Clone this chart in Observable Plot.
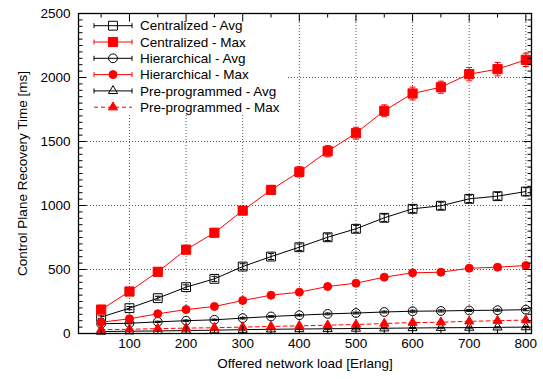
<!DOCTYPE html>
<html><head><meta charset="utf-8">
<script src="https://cdn.jsdelivr.net/npm/d3@7"></script>
<script src="https://cdn.jsdelivr.net/npm/@observablehq/plot@0.6"></script>
<style>
body{margin:0;background:#fff;}
#wrap{width:543px;height:379px;}
</style></head><body><div id="wrap"></div>
<script>
// ---- data ----
const load = [50,100,150,200,250,300,350,400,450,500,550,600,650,700,750,800];
const centAvg    = [128,198,276,362,427,523,601,674,752,818,904,974,998,1052,1073,1109];
const centAvgErr = [10,12,15,18,20,22,23,25,26,27,28,28,28,29,29,30];
const centMax    = [187,328,482,655,787,960,1122,1263,1424,1565,1740,1875,1924,2026,2065,2138];
const centMaxErr = [15,18,22,25,28,30,34,40,44,46,46,50,47,52,52,52];
const hierAvg    = [76,80,91,100,107,120,133,143,153,160,168,174,176,180,182,186];
const hierAvgErr = [4,4,5,5,5,6,6,6,7,7,7,8,8,8,8,8];
const hierMax    = [88,115,154,187,211,258,299,323,367,393,440,474,479,510,518,531];
const hierMaxErr = [6,7,8,9,10,10,11,12,12,13,14,14,15,15,16,16];
const preAvg     = [15,18,20,23,26,30,33,35,37,39,41,43,45,46,48,50];
const preAvgErr  = [2,2,2,3,3,3,3,3,4,4,4,4,4,4,4,4];
const preMax     = [30,33,38,42,45,50,55,60,65,70,78,85,88,95,100,105];
const seriesNames = ["Centralized - Avg","Centralized - Max","Hierarchical - Avg","Hierarchical - Max","Pre-programmed - Avg","Pre-programmed - Max"];
const xTicks = [100,200,300,400,500,600,700,800];
const yTicks = [0,500,1000,1500,2000,2500];
const xLabel = "Offered network load [Erlang]";
const yLabel = "Control Plane Recovery Time [ms]";

// ---- styles ----
const seriesData = [
  {values: centAvg, err: centAvgErr},
  {values: centMax, err: centMaxErr},
  {values: hierAvg, err: hierAvgErr},
  {values: hierMax, err: hierMaxErr},
  {values: preAvg, err: preAvgErr},
  {values: preMax, err: null}
];
const styles = [
  {color:"#000", symbol:"square",   d3sym:d3.symbolSquare,   fill:"none", r:5.0, dash:null, caps:true},
  {color:"#f00", symbol:"square",   d3sym:d3.symbolSquare,   fill:"#f00", r:5.2, dash:null, caps:true},
  {color:"#000", symbol:"circle",   d3sym:d3.symbolCircle,   fill:"none", r:4.4, dash:null, caps:true},
  {color:"#f00", symbol:"circle",   d3sym:d3.symbolCircle,   fill:"#f00", r:4.0, dash:null, caps:true},
  {color:"#000", symbol:"triangle", d3sym:d3.symbolTriangle, fill:"none", r:3.4, dash:null, caps:true},
  {color:"#f00", symbol:"triangle", d3sym:d3.symbolTriangle, fill:"#f00", r:3.4, dash:"4,3", caps:false}
];
const FS = 13.5;

const lineSym = (x1,y1,x2,y2) => ({draw(c){ c.moveTo(x1,y1); c.lineTo(x2,y2); }});
const capSym = lineSym(-3,0,3,0);

const yMinor = d3.range(0, 2501, 50).filter(v => v % 500 !== 0);
const xMinor = d3.range(50, 801, 100);

function legendMark(index, scales, values, dims) {
  const g = d3.create("svg:g");
  const x0 = dims.marginLeft, y0 = dims.marginTop;
  g.append("rect").attr("x", x0 + 1).attr("y", y0 + 1).attr("width", 208).attr("height", 101).attr("fill", "white");
  styles.forEach((s, i) => {
    const cy = y0 + 12.7 + i * 16.3;
    const xa = x0 + 16, xb = x0 + 54, xm = x0 + 35;
    g.append("line").attr("x1", xa).attr("x2", xb).attr("y1", cy).attr("y2", cy)
      .attr("stroke", s.color).attr("stroke-width", 1).attr("stroke-dasharray", s.dash);
    if (s.caps) {
      [xa, xb].forEach(xx => g.append("line").attr("x1", xx).attr("x2", xx).attr("y1", cy - 2.5).attr("y2", cy + 2.5)
        .attr("stroke", s.color).attr("stroke-width", 1));
    }
    g.append("path").attr("d", d3.symbol(s.d3sym, Math.PI * s.r * s.r)())
      .attr("transform", `translate(${xm},${cy})`)
      .attr("fill", s.fill).attr("stroke", s.color).attr("stroke-width", 1);
    g.append("text").attr("x", x0 + 62).attr("y", cy).attr("dy", "0.35em")
      .attr("text-anchor", "start")
      .attr("fill", "black").attr("font-size", FS).text(seriesNames[i]);
  });
  return g.node();
}

const dataMarks = [];
seriesData.forEach((sd, i) => {
  const s = styles[i];
  const rows = load.map((x, j) => ({x, y: sd.values[j], e: sd.err ? sd.err[j] : 0}));
  dataMarks.push(Plot.line(rows, {x: "x", y: "y", stroke: s.color, strokeWidth: 1, strokeDasharray: s.dash}));
  if (sd.err) {
    dataMarks.push(Plot.ruleX(rows, {x: "x", y1: d => d.y - d.e, y2: d => d.y + d.e, stroke: s.color, strokeWidth: 1}));
    dataMarks.push(Plot.dot(rows, {x: "x", y: d => d.y - d.e, symbol: capSym, fill: "none", stroke: s.color, strokeWidth: 1, r: 3}));
    dataMarks.push(Plot.dot(rows, {x: "x", y: d => d.y + d.e, symbol: capSym, fill: "none", stroke: s.color, strokeWidth: 1, r: 3}));
  }
  dataMarks.push(Plot.dot(rows, {x: "x", y: "y", symbol: s.symbol, r: s.r, fill: s.fill, stroke: s.color, strokeWidth: 1}));
});

const tickStyle = {fill: "none", stroke: "black", strokeWidth: 1, r: 3};
const chart = Plot.plot({
  width: 543, height: 379,
  marginLeft: 78, marginRight: 12, marginTop: 13, marginBottom: 46,
  style: {fontFamily: "'Liberation Sans', Arial, Helvetica, sans-serif", fontSize: FS + "px", background: "white", color: "black"},
  x: {domain: [10, 810], axis: null},
  y: {domain: [0, 2500], axis: null},
  marks: [
    Plot.gridX(xTicks, {stroke: "#444", strokeOpacity: 0.9, strokeWidth: 1, strokeDasharray: "1,2"}),
    Plot.gridY(yTicks.slice(1, -1), {stroke: "#444", strokeOpacity: 0.9, strokeWidth: 1, strokeDasharray: "1,2"}),
    legendMark,
    ...dataMarks,
    Plot.frame({stroke: "black", strokeWidth: 1.3}),
    Plot.dot(yTicks, {y: d => d, frameAnchor: "left", symbol: lineSym(0,0,8,0), ...tickStyle}),
    Plot.dot(yTicks, {y: d => d, frameAnchor: "right", symbol: lineSym(0,0,-8,0), ...tickStyle}),
    Plot.dot(yMinor, {y: d => d, frameAnchor: "left", symbol: lineSym(0,0,4,0), ...tickStyle}),
    Plot.dot(yMinor, {y: d => d, frameAnchor: "right", symbol: lineSym(0,0,-4,0), ...tickStyle}),
    Plot.dot(xTicks, {x: d => d, frameAnchor: "bottom", symbol: lineSym(0,0,0,-8), ...tickStyle}),
    Plot.dot(xTicks, {x: d => d, frameAnchor: "top", symbol: lineSym(0,0,0,8), ...tickStyle}),
    Plot.dot(xMinor, {x: d => d, frameAnchor: "bottom", symbol: lineSym(0,0,0,-4), ...tickStyle}),
    Plot.dot(xMinor, {x: d => d, frameAnchor: "top", symbol: lineSym(0,0,0,4), ...tickStyle}),
    Plot.text(yTicks, {y: d => d, frameAnchor: "left", dx: -8, textAnchor: "end", text: d => String(d), fill: "black", fontSize: FS}),
    Plot.text(xTicks, {x: d => d, frameAnchor: "bottom", dy: 14, text: d => String(d), fill: "black", fontSize: FS}),
    Plot.text([xLabel], {frameAnchor: "bottom", dy: 34, textAnchor: "middle", text: d => d, fill: "black", fontSize: FS}),
    Plot.text([yLabel], {frameAnchor: "left", dx: -56, rotate: -90, textAnchor: "middle", text: d => d, fill: "black", fontSize: FS})
  ]
});
document.getElementById("wrap").appendChild(chart);
</script></body></html>
